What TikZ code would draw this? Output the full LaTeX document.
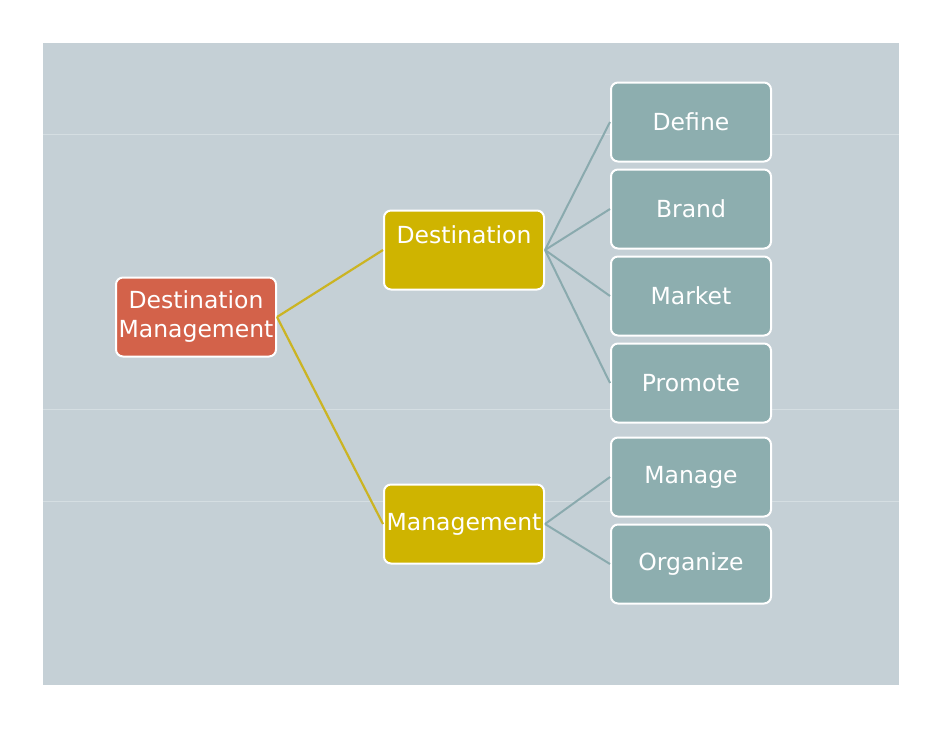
\documentclass[tikz,border=0pt]{standalone}
\usepackage{fontspec}
\setmainfont{DejaVu Sans}
\definecolor{panel}{HTML}{C5D0D6}
\definecolor{panelline}{HTML}{D5DEE2}
\definecolor{rootfill}{HTML}{D3624A}
\definecolor{midfill}{HTML}{CFB400}
\definecolor{leaffill}{HTML}{8DAEAF}
\definecolor{yline}{HTML}{CBB423}
\definecolor{tline}{HTML}{8AAAAE}
\begin{document}
\begin{tikzpicture}[x=1pt,y=-1pt,
  boxbase/.style={draw=white,line width=2pt,rounded corners=7pt,text=white,
    minimum width=160pt,minimum height=79pt,inner sep=0pt,align=center,
    font=\fontsize{23.5}{29}\selectfont},
  rootbox/.style={boxbase,fill=rootfill},
  midbox/.style={boxbase,fill=midfill},
  leafbox/.style={boxbase,fill=leaffill},
  boxtext/.style={text=white,font=\fontsize{23.5}{29}\selectfont},
  yconn/.style={draw=yline,line width=2.2pt},
  tconn/.style={draw=tline,line width=2pt}]
\useasboundingbox (0,0) rectangle (942,728);
\fill[white] (0,0) rectangle (942,728);
\fill[panel] (43,43) rectangle (899,685);
\foreach \yy in {134,409,501}{\draw[panelline,line width=1pt] (43,\yy) -- (899,\yy);}
\node[rootbox] (dm) at (196,317) {Destination\\Management};
\node[midbox] (dest) at (464,250) {};
\node[boxtext] (desttxt) at (464,235) {Destination};
\node[midbox] (mgmt) at (464,524) {Management};
\node[leafbox] (define) at (691,122) {Define};
\node[leafbox] (brand) at (691,209) {Brand};
\node[leafbox] (market) at (691,296) {Market};
\node[leafbox] (promote) at (691,383) {Promote};
\node[leafbox] (manage) at (691,477) {Manage};
\node[leafbox] (organize) at (691,564) {Organize};
\path[yconn] (dm.east) -- (dest.west);
\path[yconn] (dm.east) -- (mgmt.west);
\path[tconn] (dest.east) -- (define.west);
\path[tconn] (dest.east) -- (brand.west);
\path[tconn] (dest.east) -- (market.west);
\path[tconn] (dest.east) -- (promote.west);
\path[tconn] (mgmt.east) -- (manage.west);
\path[tconn] (mgmt.east) -- (organize.west);
\end{tikzpicture}
\end{document}
